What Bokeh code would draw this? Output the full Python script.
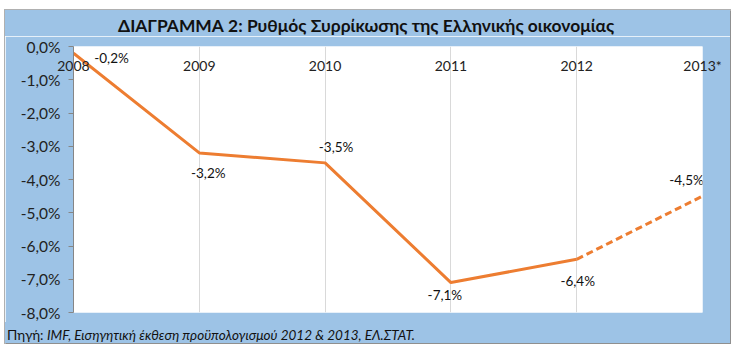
from bokeh.plotting import figure
from bokeh.models import Range1d, FixedTicker, ColumnDataSource, LinearAxis, Div
from bokeh.layouts import column
from bokeh.core.properties import value
from bokeh.embed import file_html
from bokeh.resources import INLINE

# ---- data ----
years = ["2008", "2009", "2010", "2011", "2012", "2013*"]
growth = [-0.2, -3.2, -3.5, -7.1, -6.4, -4.5]
y_ticks = [0, -1, -2, -3, -4, -5, -6, -7, -8]
y_tick_labels = ["0,0%", "-1,0%", "-2,0%", "-3,0%", "-4,0%", "-5,0%", "-6,0%", "-7,0%", "-8,0%"]
title_text = "ΔΙΑΓΡΑΜΜΑ 2: Ρυθμός Συρρίκωσης της Ελληνικής οικονομίας"
source_lead = "Πηγή: "
source_rest = "IMF, Εισηγητική έκθεση προϋπολογισμού 2012 & 2013, ΕΛ.ΣΤΑΤ."

# label placement (style)
lbl_dx = [38, 9, 11, -6, 1, -16]
lbl_dy = [5, 20, -16, 12, 22, -16]

FONT = "Lato"
BLUE = "#9DC3E6"
ORANGE = "#ED7D31"

xs = list(range(len(years)))

# title line
title_div = Div(text=title_text, width=725, height=26, margin=0,
                styles={"background-color": BLUE, "font-family": FONT,
                        "font-size": "17.4px", "font-weight": "bold", "color": "#111111",
                        "line-height": "22px", "padding": "5px 0 0 113px",
                        "box-sizing": "border-box", "white-space": "nowrap",
                        "overflow": "visible"})

p = figure(width=725, height=286, output_backend="svg", toolbar_location=None,
           x_range=Range1d(0, len(years) - 1), y_range=Range1d(-8, 0),
           x_axis_location=None, margin=0,
           min_border_left=68, min_border_right=28, min_border_top=10, min_border_bottom=10)
p.border_fill_color = BLUE
p.background_fill_color = "white"
p.outline_line_color = None

p.xgrid.ticker = FixedTicker(ticks=xs)
p.xgrid.grid_line_color = "#D9D9D9"
p.ygrid.grid_line_color = None

ya = p.yaxis[0]
ya.ticker = FixedTicker(ticks=y_ticks)
ya.major_label_overrides = {t: l for t, l in zip(y_ticks, y_tick_labels)}
ya.axis_line_color = "#868686"
ya.major_tick_line_color = "#868686"
ya.major_tick_out = 5
ya.major_tick_in = 0
ya.minor_tick_line_color = None
ya.major_label_standoff = 8
ya.major_label_text_font = FONT
ya.major_label_text_font_size = "15.5px"
ya.major_label_text_color = "#222222"

# category axis at the top (zero line), labels pushed into the plot
xa = LinearAxis(ticker=FixedTicker(ticks=xs),
                major_label_overrides={i: y for i, y in zip(xs, years)},
                axis_line_color=None, major_tick_line_color=None,
                minor_tick_line_color=None, major_label_standoff=-33,
                major_label_text_font=FONT, major_label_text_font_size="14px",
                major_label_text_color="#222222")
p.add_layout(xa, "above")

# lines
p.line(xs[:5], growth[:5], line_color=ORANGE, line_width=3)
p.line(xs[4:], growth[4:], line_color=ORANGE, line_width=3, line_dash="7 4")

# data labels
src = ColumnDataSource(dict(x=xs, y=growth,
                            t=[f"{v:.1f}%".replace(".", ",") for v in growth],
                            dx=lbl_dx, dy=lbl_dy))
p.text(x="x", y="y", text="t", x_offset="dx", y_offset="dy", source=src,
       text_align="center", text_baseline="middle", text_font=value(FONT),
       text_font_size="13.5px", text_color="#111111")

# source line
src_div = Div(text=f"{source_lead}<i>{source_rest}</i>", width=725, height=21, margin=0,
              styles={"background-color": BLUE, "font-family": FONT,
                      "font-size": "13.5px", "color": "#111111",
                      "line-height": "18px", "padding": "4px 0 0 2px",
                      "box-sizing": "border-box", "white-space": "nowrap",
                      "overflow": "visible"})

layout = column(title_div, p, src_div, spacing=0, margin=(10, 10, 9, 5),
                styles={"box-shadow": "1px 1px 0 0 #8f8f8f, 0 0 0 1px #b0b0b0"})

open("out.html", "w").write(file_html(layout, INLINE))
